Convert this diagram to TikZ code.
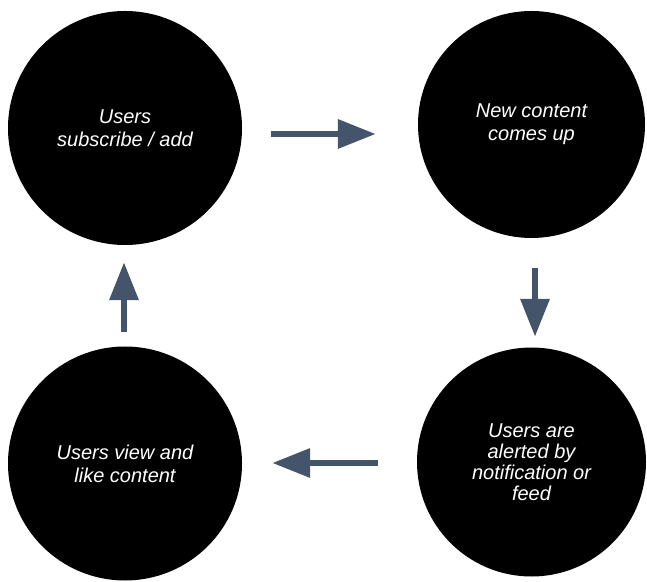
\documentclass[tikz,border=0pt]{standalone}
\usepackage{fontspec}
\setmainfont{Liberation Sans}
\usetikzlibrary{arrows.meta}
\definecolor{arrowblue}{HTML}{44546A}
\begin{document}
\begin{tikzpicture}[x=1pt,y=1pt,
  bubble/.style={circle, fill=black, draw=none, inner sep=0pt, text=white,
    align=center, font=\fontsize{20}{23}\selectfont\itshape},
  flow/.style={draw=arrowblue, line width=6.5pt,
    -{Triangle[length=38pt,width=28pt]}, arrowblue}]
\useasboundingbox (0,0) rectangle (647,581);
\node[bubble, minimum size=234pt] (A) at (125,453) {Users\\subscribe / add};
\node[bubble, minimum size=227pt] (B) at (531.5,456.5) {New content\\comes up};
\node[bubble, minimum size=229pt, font=\fontsize{20}{21}\selectfont\itshape] (C) at (531.5,119) {Users are\\alerted by\\notification or\\feed};
\node[bubble, minimum size=234pt] (D) at (125,117.5) {Users view and\\like content};
\draw[flow] ([shift={(29,-6)}]A.east) -- ([shift={(-42,-9.5)}]B.west);
\draw[flow] ([shift={(3.5,-30)}]B.south) -- ([shift={(3.5,10.5)}]C.north);
\draw[flow] ([shift={(-39,-1)}]C.west) -- ([shift={(30,0.5)}]D.east);
\draw[flow] ([shift={(-1,14.5)}]D.north) -- ([shift={(-1,-17)}]A.south);
\end{tikzpicture}
\end{document}
